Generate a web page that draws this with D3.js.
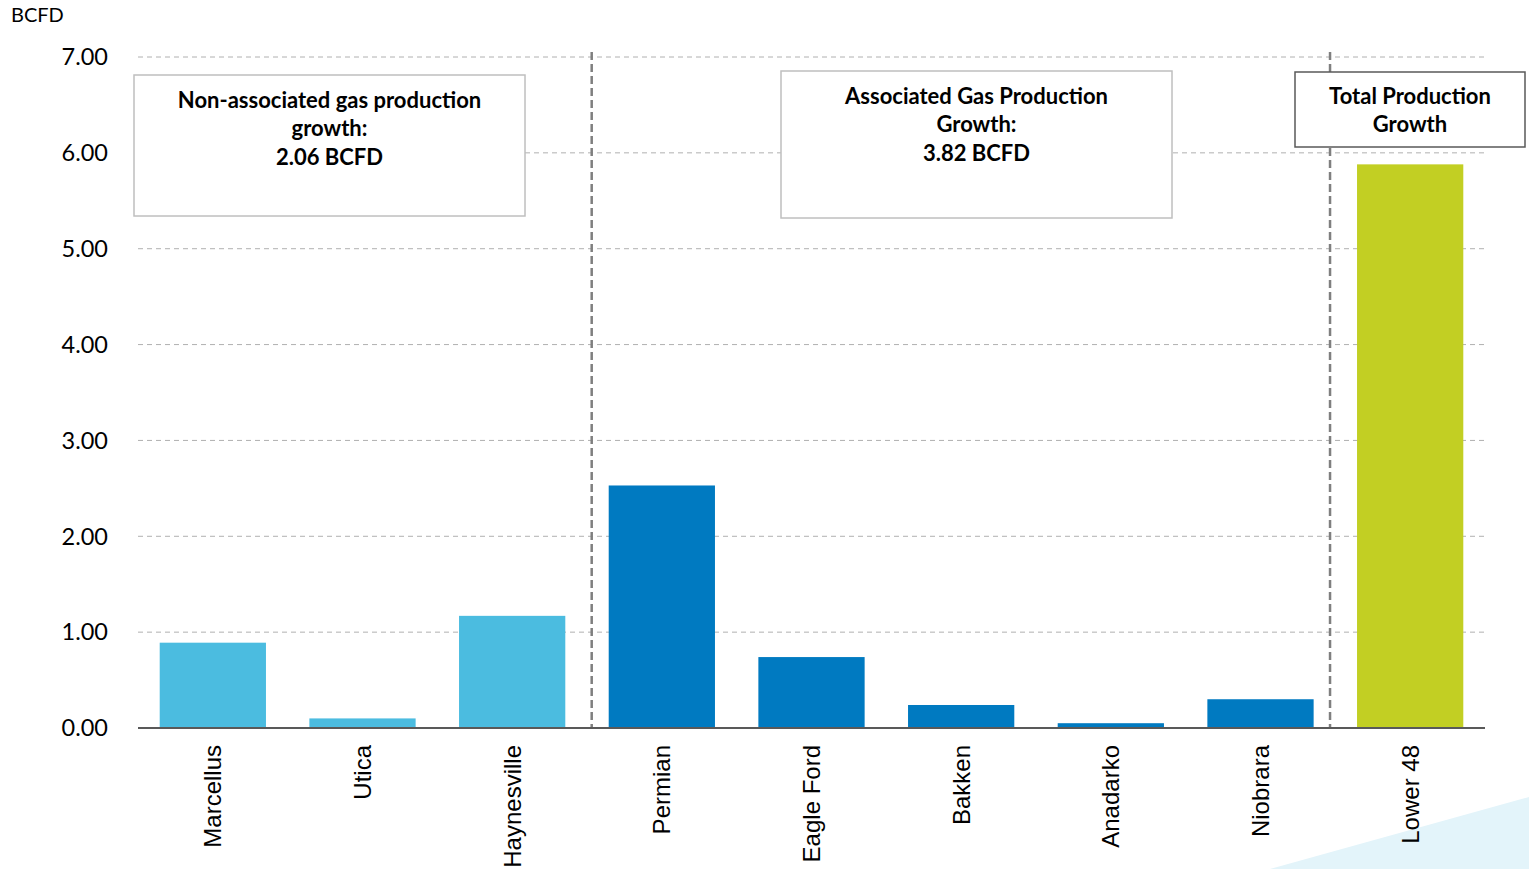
<!DOCTYPE html>
<html><head><meta charset="utf-8">
<script src="https://cdn.jsdelivr.net/npm/d3@7"></script>
<style>body{margin:0;background:#fff;} svg{display:block;}</style>
</head><body>
<svg id="chart" width="1529" height="869"></svg>
<script>
const categories = ["Marcellus","Utica","Haynesville","Permian","Eagle Ford","Bakken","Anadarko","Niobrara","Lower 48"];
const values = [0.89, 0.10, 1.17, 2.53, 0.74, 0.24, 0.05, 0.30, 5.88];
const groups = ["non","non","non","assoc","assoc","assoc","assoc","assoc","total"];
const yTicks = [0,1,2,3,4,5,6,7];
const boxTexts = [
  {lines:["Non-associated gas production","growth:","2.06 BCFD"]},
  {lines:["Associated Gas Production","Growth:","3.82 BCFD"]},
  {lines:["Total Production","Growth"]}
];
const colors = {non:"#4bbce0", assoc:"#007ac1", total:"#c2cf23"};

const svg = d3.select("#chart");
const x = d3.scaleBand().domain(categories).range([138,1485]).paddingInner(0.29).paddingOuter(0.145);
const y = d3.scaleLinear().domain([0,7]).range([728,57]);

// decorative triangle
svg.append("polygon").attr("points","1270,869 1529,797 1529,869").attr("fill","#e3f4fa");

// gridlines
svg.selectAll("line.grid").data(yTicks.filter(d=>d>0)).enter().append("line")
  .attr("x1",138).attr("x2",1485).attr("y1",d=>y(d)).attr("y2",d=>y(d))
  .attr("stroke","#b0b0b0").attr("stroke-width",1).attr("stroke-dasharray","5,4");

// y tick labels
svg.selectAll("text.ytick").data(yTicks).enter().append("text")
  .attr("x",108).attr("y",d=>y(d)).attr("dy","0.35em").attr("text-anchor","end")
  .attr("font-family","Lato, 'Open Sans', sans-serif").attr("font-size",23.5).attr("fill","#000")
  .text(d=>d.toFixed(2));

svg.append("text").attr("x",11).attr("y",22).attr("font-family","Lato, 'Open Sans', sans-serif")
  .attr("font-size",20).attr("fill","#000").text("BCFD");

// separators
const sepX = [x("Permian") - 17, x("Lower 48") - 27];
svg.selectAll("line.sep").data(sepX).enter().append("line")
  .attr("x1",d=>d).attr("x2",d=>d).attr("y1",52).attr("y2",728)
  .attr("stroke","#7f7f7f").attr("stroke-width",2.5).attr("stroke-dasharray","8,4");

// bars
svg.selectAll("rect.bar").data(categories).enter().append("rect")
  .attr("x",d=>x(d)).attr("width",x.bandwidth())
  .attr("y",(d,i)=>y(values[i])).attr("height",(d,i)=>y(0)-y(values[i]))
  .attr("fill",(d,i)=>colors[groups[i]]);

// axis line
svg.append("line").attr("x1",138).attr("x2",1485).attr("y1",728).attr("y2",728)
  .attr("stroke","#595959").attr("stroke-width",2);

// category labels
svg.selectAll("text.cat").data(categories).enter().append("text")
  .attr("transform",d=>`translate(${x(d)+x.bandwidth()/2},745) rotate(-90)`)
  .attr("dy","0.35em").attr("text-anchor","end")
  .attr("font-family","'Liberation Sans', Arial, sans-serif").attr("font-size",24).attr("fill","#000")
  .text(d=>d);

// boxes
const boxes = [
  {x:134,y:75,w:391,h:141,stroke:"#bfbfbf",ty:100},
  {x:781,y:71,w:391,h:147,stroke:"#bfbfbf",ty:96},
  {x:1295,y:72,w:230,h:75,stroke:"#595959",ty:96}
];
boxes.forEach((b,i)=>{
  svg.append("rect").attr("x",b.x).attr("y",b.y).attr("width",b.w).attr("height",b.h)
    .attr("fill","#fff").attr("stroke",b.stroke).attr("stroke-width",1.5);
  svg.append("g").selectAll("text").data(boxTexts[i].lines).enter().append("text")
    .attr("x",b.x+b.w/2).attr("y",(d,j)=>b.ty+j*28.7).attr("dy","0.35em")
    .attr("text-anchor","middle").attr("font-family","Lato, 'Open Sans', sans-serif")
    .attr("font-weight","bold").attr("font-size",22).attr("fill","#000").text(d=>d);
});
</script>
</body></html>
